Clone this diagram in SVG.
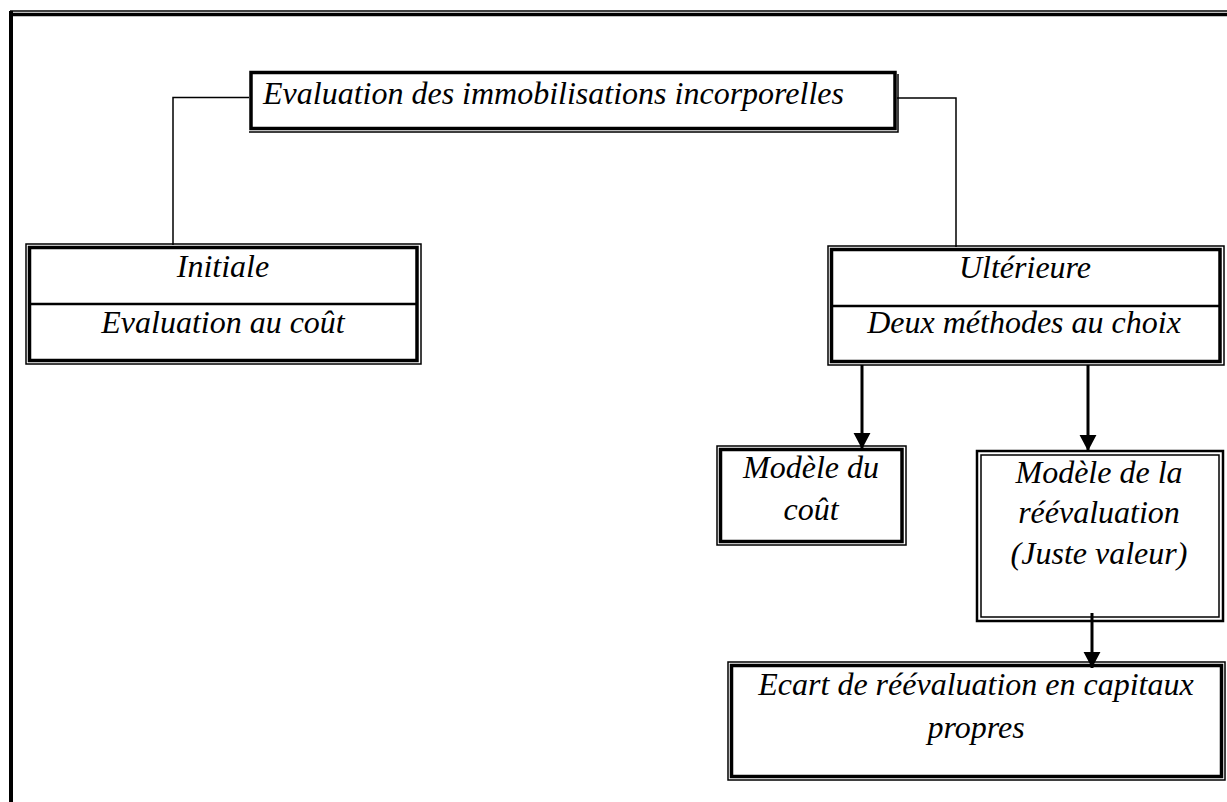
<svg xmlns="http://www.w3.org/2000/svg" width="1227" height="802" viewBox="0 0 1227 802">
  <defs>
    <style>
      .t { font-family: "Liberation Serif", "Times New Roman", serif; font-style: italic; font-size: 32px; fill: #000; text-anchor: middle; }
      .t.left { text-anchor: start; }
      .thin { fill: none; stroke: #000; stroke-width: 1.5; }
      .thick { fill: none; stroke: #000; stroke-width: 3.5; }
      .mid { fill: none; stroke: #000; stroke-width: 2.5; }
      .link { fill: none; stroke: #000; stroke-width: 1.5; }
      .arrow { fill: none; stroke: #000; stroke-width: 3; }
    </style>
    <marker id="head" markerWidth="6" markerHeight="6" refX="5.5" refY="3" orient="auto" markerUnits="strokeWidth">
      <path d="M0,0.1 L5.5,3 L0,5.9 Z" fill="#000"/>
    </marker>
  </defs>
  <rect width="1227" height="802" fill="#fff"/>

  <!-- page frame -->
  <g id="frame">
    <line x1="10" y1="11" x2="1227" y2="11" stroke="#000" stroke-width="1.5"/>
    <line x1="9" y1="14.5" x2="1227" y2="14.5" stroke="#000" stroke-width="3.5"/>
    <line x1="11" y1="11" x2="11" y2="802" stroke="#000" stroke-width="4"/>
  </g>

  <!-- connectors -->
  <g id="connectors">
    <polyline class="link" points="249,97.5 173,97.5 173,245"/>
    <polyline class="link" points="897,98 956,98 956,247"/>
    <line class="arrow" x1="862" y1="365" x2="862" y2="449" marker-end="url(#head)"/>
    <line class="arrow" x1="1088" y1="365" x2="1088" y2="451" marker-end="url(#head)"/>
    <line class="arrow" x1="1092" y1="613" x2="1092" y2="668" marker-end="url(#head)"/>
  </g>

  <!-- root -->
  <g id="node-root">
    <rect class="thick" x="251" y="72.5" width="644" height="56"/>
    <polyline class="thin" points="249,132 898,132 898,74"/>
    <text class="t left" x="263" y="104">Evaluation des immobilisations incorporelles</text>
  </g>

  <!-- initial measurement -->
  <g id="node-initiale">
    <rect class="thin" x="26" y="244" width="395" height="120"/>
    <rect class="thick" x="29.5" y="247.5" width="387.5" height="113"/>
    <line class="mid" x1="29" y1="304" x2="418" y2="304"/>
    <text class="t" x="223" y="277">Initiale</text>
    <text class="t" x="223" y="333">Evaluation au coût</text>
  </g>

  <!-- subsequent measurement -->
  <g id="node-ulterieure">
    <rect class="thin" x="828" y="246" width="396" height="119"/>
    <rect class="thick" x="831.5" y="249.5" width="388.5" height="112"/>
    <line class="mid" x1="831" y1="306" x2="1221" y2="306"/>
    <text class="t" x="1025" y="278">Ultérieure</text>
    <text class="t" x="1024" y="333">Deux méthodes au choix</text>
  </g>

  <!-- cost model -->
  <g id="node-cout">
    <rect class="thin" x="717" y="446" width="189" height="99"/>
    <rect class="thick" x="720.5" y="449.5" width="181.5" height="92"/>
    <text class="t" x="811" y="478">Modèle du</text>
    <text class="t" x="811" y="520">coût</text>
  </g>

  <!-- revaluation model -->
  <g id="node-reevaluation">
    <rect class="mid" x="977" y="451" width="246" height="170"/>
    <rect class="thin" x="981" y="455" width="238" height="162"/>
    <text class="t" x="1099" y="483">Modèle de la</text>
    <text class="t" x="1099" y="523">réévaluation</text>
    <text class="t" x="1099" y="564">(Juste valeur)</text>
  </g>

  <!-- revaluation surplus -->
  <g id="node-ecart">
    <rect class="thin" x="728" y="662" width="497" height="118"/>
    <rect class="thick" x="731.5" y="665.5" width="490" height="111"/>
    <text class="t" x="976" y="695">Ecart de réévaluation en capitaux</text>
    <text class="t" x="976" y="738">propres</text>
  </g>
</svg>
